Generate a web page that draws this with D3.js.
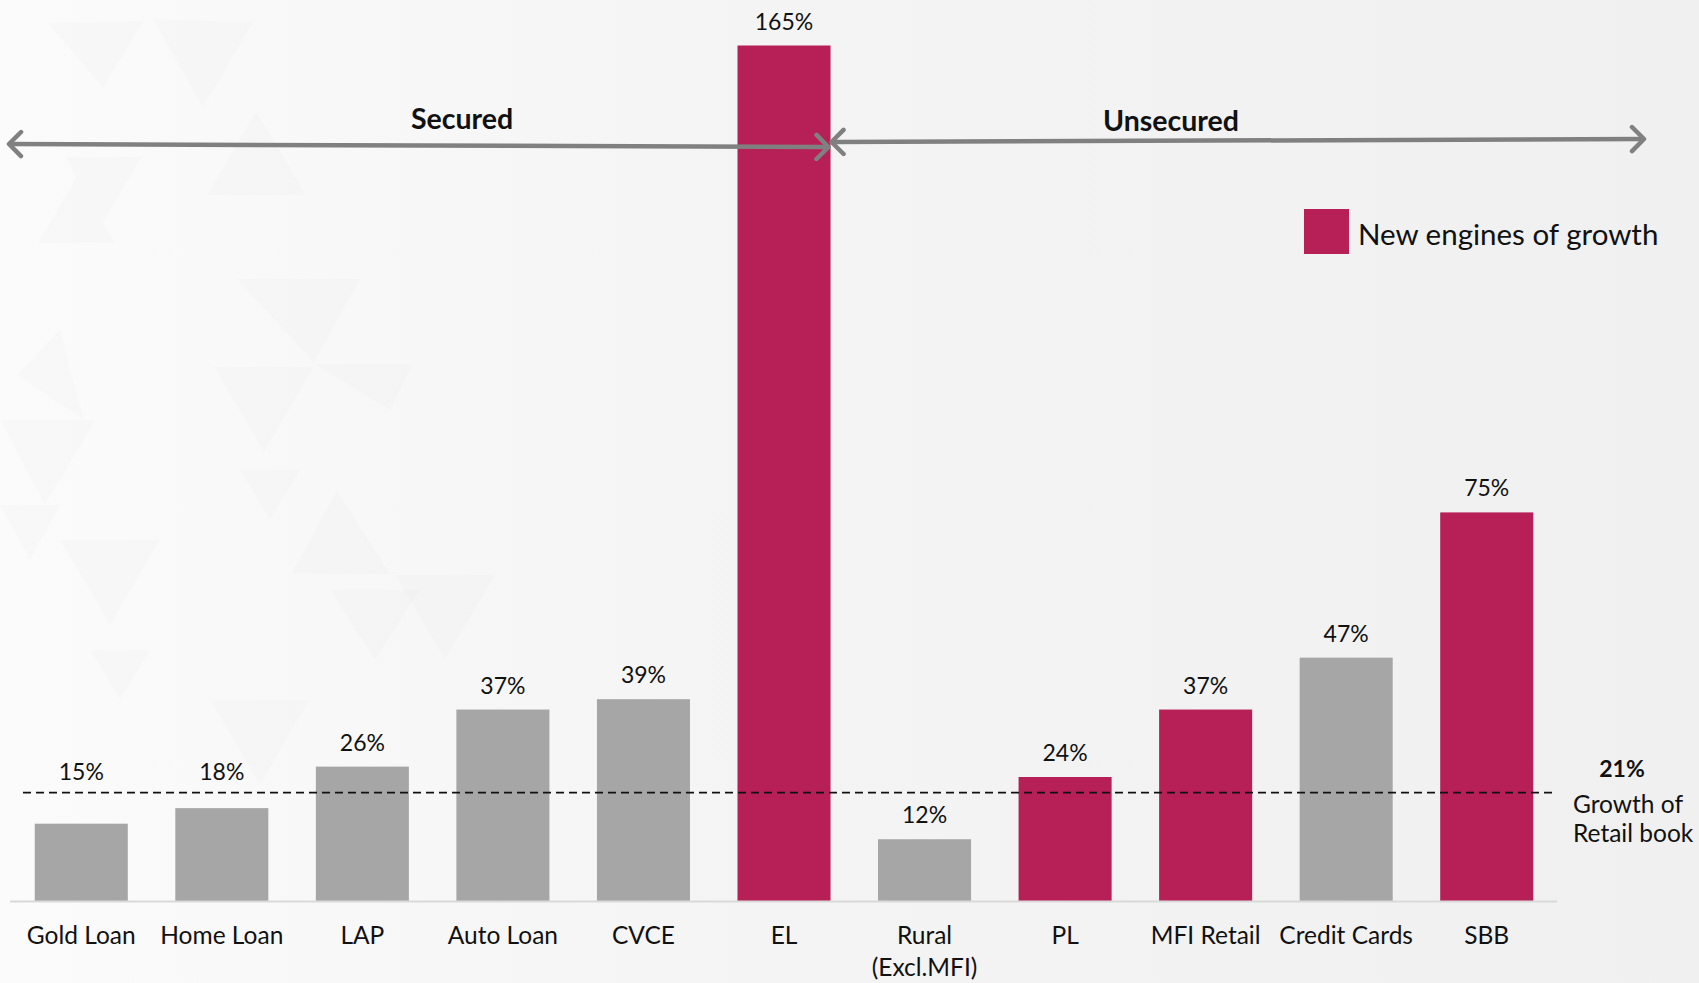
<!DOCTYPE html>
<html>
<head>
<meta charset="utf-8">
<script src="https://cdn.jsdelivr.net/npm/d3@7"></script>
<style>
  html, body { margin: 0; padding: 0; background: #f3f3f3; }
  svg { display: block; }
  text { font-family: Lato, "Open Sans", sans-serif; fill: #111; }
</style>
</head>
<body>
<svg id="chart" width="1699" height="983"></svg>
<script>
// Loan-book growth by segment (%)
const categories = ["Gold Loan", "Home Loan", "LAP", "Auto Loan", "CVCE", "EL",
                    "Rural\n(Excl.MFI)", "PL", "MFI Retail", "Credit Cards", "SBB"];
const growth = [15, 18, 26, 37, 39, 165, 12, 24, 37, 47, 75];
const newEngines = ["EL", "PL", "MFI Retail", "SBB"];
const retailBookGrowth = 21;
const valueLabels = growth.map(v => v + "%");
const legendLabel = "New engines of growth";
const groupLabels = ["Secured", "Unsecured"];
const benchmarkLabels = ["21%", "Growth of", "Retail book"];

const W = 1699, H = 983;
const baseY = 901.5, topY = 45.5;
const colorNew = "#b71f57", colorOther = "#a6a6a6";

const svg = d3.select("#chart");

// background: soft grey wash with faint triangle pattern on the left
const defs = svg.append("defs");
const grad = defs.append("linearGradient").attr("id", "bg").attr("x1", 0).attr("x2", 1).attr("y1", 0).attr("y2", 0);
grad.append("stop").attr("offset", 0).attr("stop-color", "#fbfbfb");
grad.append("stop").attr("offset", 0.45).attr("stop-color", "#f4f4f4");
grad.append("stop").attr("offset", 1).attr("stop-color", "#f0f0f0");
svg.append("rect").attr("width", W).attr("height", H).attr("fill", "url(#bg)");

const tris = [
  [[48,23],[144,21],[103,88]],
  [[153,19],[253,22],[203,108]],
  [[65,157],[142,157],[103,222]],
  [[38,243],[115,243],[77,176]],
  [[207,195],[306,195],[256,111]],
  [[237,279],[360,279],[314,363]],
  [[214,367],[314,367],[264,452]],
  [[314,364],[413,364],[390,410]],
  [[17,375],[60,330],[84,420]],
  [[0,420],[96,420],[45,505]],
  [[291,574],[390,574],[337,490]],
  [[395,575],[495,575],[445,660]],
  [[0,505],[60,505],[30,560]],
  [[90,650],[150,650],[120,700]],
  [[240,470],[300,470],[270,520]],
  [[60,540],[160,540],[110,625]],
  [[210,700],[310,700],[260,785]],
  [[330,590],[420,590],[375,660]]
];
svg.append("g").selectAll("path").data(tris).join("path")
  .attr("d", t => "M" + t.map(p => p.join(",")).join("L") + "Z")
  .attr("fill", "#000").attr("fill-opacity", 0.012);

// scales
const x = d3.scaleBand().domain(categories).range([11, 1557]).paddingInner(0.338).paddingOuter(0.169);
const y = d3.scaleLinear().domain([0, 165]).range([baseY, topY]);
const data = categories.map((c, i) => ({ cat: c, v: growth[i], label: valueLabels[i] }));
const isNew = c => newEngines.includes(c);

// bars
svg.append("g").selectAll("rect").data(data).join("rect")
  .attr("x", d => x(d.cat))
  .attr("y", d => y(d.v))
  .attr("width", x.bandwidth())
  .attr("height", d => y(0) - y(d.v))
  .attr("fill", d => isNew(d.cat) ? colorNew : colorOther);

// baseline axis
const xAxis = d3.axisBottom(x).tickSize(0).tickPadding(0).tickFormat("");
const axisG = svg.append("g").attr("transform", `translate(0,${baseY})`).call(xAxis);
axisG.select(".domain").attr("stroke", "#d9d9d9").attr("stroke-width", 2).attr("d", "M10,0H1557");

// category labels (multi-line where needed)
const catG = svg.append("g").attr("font-size", 24.5).attr("text-anchor", "middle");
data.forEach(d => {
  const t = catG.append("text").attr("x", x(d.cat) + x.bandwidth() / 2).attr("y", 944);
  d.cat.split("\n").forEach((line, k) => {
    t.append("tspan").attr("x", x(d.cat) + x.bandwidth() / 2).attr("dy", k === 0 ? 0 : 32).text(line);
  });
});

// retail book benchmark line
const benchY = y(retailBookGrowth);
svg.append("line")
  .attr("x1", 23).attr("x2", 1557).attr("y1", benchY).attr("y2", benchY)
  .attr("stroke", "#111").attr("stroke-width", 1.8).attr("stroke-dasharray", "8,5");

// value labels: above each bar, lifted clear of the benchmark line where they would cross it
const gap = 16;
svg.append("g").attr("font-size", 23).attr("text-anchor", "middle")
  .selectAll("text").data(data).join("text")
  .attr("x", d => x(d.cat) + x.bandwidth() / 2)
  .attr("y", d => {
    const b = y(d.v) - gap;
    const top = b - 17;
    if (b > benchY - 2 && top < benchY + 4) return benchY - 13;
    return b;
  })
  .text(d => d.label);

// benchmark annotation
svg.append("text").attr("x", 1622).attr("y", 777).attr("text-anchor", "middle")
  .attr("font-size", 23).attr("font-weight", 700).text(benchmarkLabels[0]);
svg.append("text").attr("x", 1573).attr("y", 813).attr("font-size", 24.5).text(benchmarkLabels[1]);
svg.append("text").attr("x", 1573).attr("y", 842).attr("font-size", 24.5).text(benchmarkLabels[2]);

// legend
svg.append("rect").attr("x", 1304).attr("y", 209).attr("width", 45).attr("height", 45).attr("fill", colorNew);
svg.append("text").attr("x", 1358).attr("y", 245).attr("font-size", 29.5).text(legendLabel);

// secured / unsecured double-headed arrows
const split = x("EL") + x.bandwidth();
const arrows = [
  { x1: 9, y1: 144, x2: split - 2, y2: 147, label: groupLabels[0], lx: 462, ly: 129 },
  { x1: split + 1, y1: 142, x2: 1644, y2: 139, label: groupLabels[1], lx: 1171, ly: 131 }
];
const arrowG = svg.append("g");
arrows.forEach(a => {
  const ang = Math.atan2(a.y2 - a.y1, a.x2 - a.x1);
  const hl = 17, spread = Math.PI / 4;
  const head = (px, py, dir) => {
    const p1 = [px + hl * Math.cos(dir + spread), py + hl * Math.sin(dir + spread)];
    const p2 = [px + hl * Math.cos(dir - spread), py + hl * Math.sin(dir - spread)];
    return `M${p1}L${px},${py}L${p2}`;
  };
  arrowG.append("line").attr("x1", a.x1 + 2).attr("y1", a.y1).attr("x2", a.x2 - 2).attr("y2", a.y2)
    .attr("stroke", "#808080").attr("stroke-width", 4.5);
  arrowG.append("path").attr("d", head(a.x1, a.y1, ang) + head(a.x2, a.y2, ang + Math.PI))
    .attr("fill", "none").attr("stroke", "#808080").attr("stroke-width", 4.5)
    .attr("stroke-linecap", "round").attr("stroke-linejoin", "round");
  svg.append("text").attr("x", a.lx).attr("y", a.ly).attr("text-anchor", "middle")
    .attr("font-size", 28.5).attr("font-weight", 700).text(a.label);
});
</script>
</body>
</html>
